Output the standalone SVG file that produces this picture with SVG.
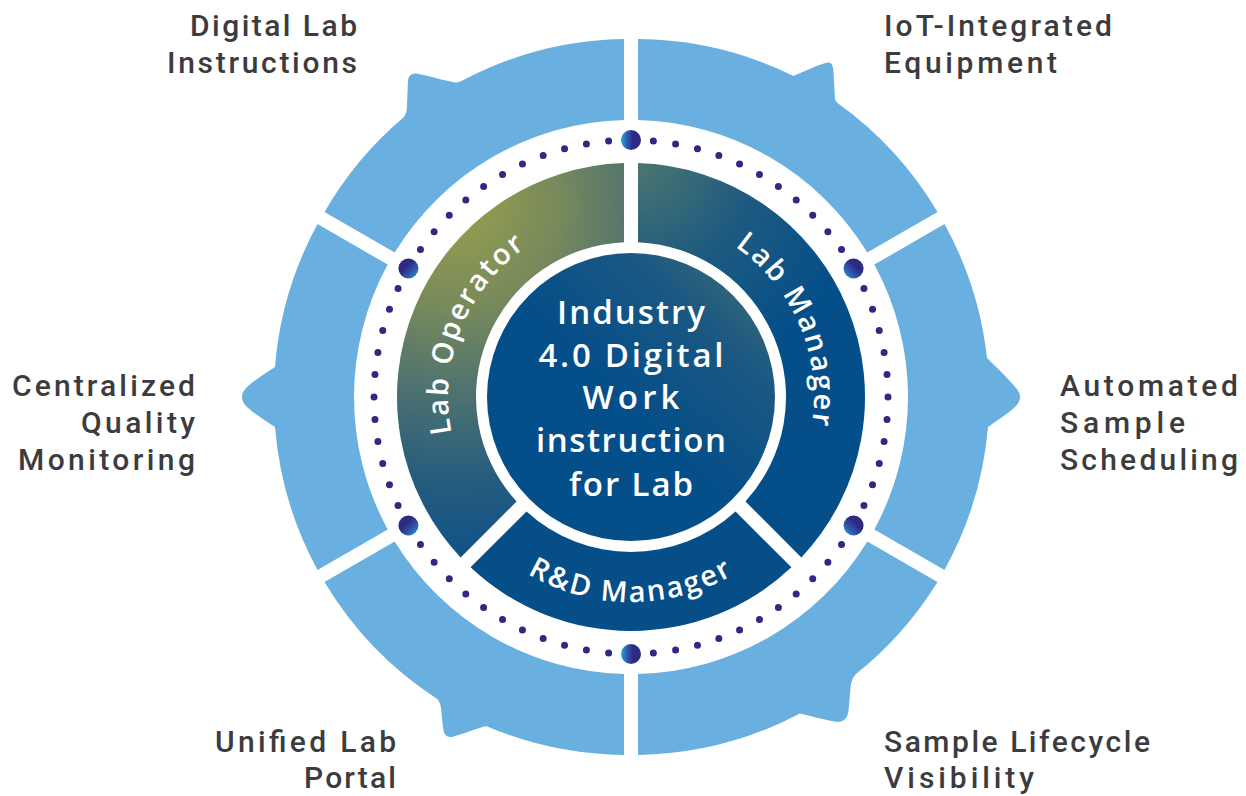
<svg xmlns="http://www.w3.org/2000/svg" width="1246" height="796" viewBox="0 0 1246 796">
<defs>
<style>
.seg{fill:#69AFE0}
.lbl{font-family:Roboto,"Liberation Sans",sans-serif;font-weight:500;font-size:30px;fill:#3C3C3E}
.end{text-anchor:end}
.inl{font-family:"Open Sans","Liberation Sans",sans-serif;font-weight:600;font-size:29px;fill:#FFFFFF;letter-spacing:2.2px}
.ctr{font-family:"Open Sans","Liberation Sans",sans-serif;font-weight:600;font-size:33px;fill:#FFFFFF;text-anchor:middle}
.big{stroke:none}
</style>
<radialGradient id="gOp" gradientUnits="userSpaceOnUse" cx="455" cy="205" r="340">
<stop offset="0" stop-color="#97A04C"/>
<stop offset="0.3" stop-color="#798A5B"/>
<stop offset="0.55" stop-color="#4D7270"/>
<stop offset="0.8" stop-color="#285D7D"/>
<stop offset="1" stop-color="#125386"/>
</radialGradient>
<radialGradient id="gMg" gradientUnits="userSpaceOnUse" cx="640" cy="160" r="230">
<stop offset="0" stop-color="#4C7670"/>
<stop offset="0.5" stop-color="#1D5A80"/>
<stop offset="1" stop-color="#044E89"/>
</radialGradient>
<linearGradient id="gCt" gradientUnits="userSpaceOnUse" x1="790" y1="245" x2="630" y2="410">
<stop offset="0" stop-color="#4E766E"/>
<stop offset="0.5" stop-color="#1B5882"/>
<stop offset="1" stop-color="#044E89"/>
</linearGradient>
<linearGradient id="dL" x1="0" y1="0.5" x2="1" y2="0.5">
<stop offset="0" stop-color="#20A9E1"/>
<stop offset="0.3" stop-color="#2F5CAF"/>
<stop offset="0.6" stop-color="#2E2A84"/>
</linearGradient>
<linearGradient id="dBL" x1="0" y1="1" x2="1" y2="0">
<stop offset="0" stop-color="#20A9E1"/>
<stop offset="0.3" stop-color="#2F5CAF"/>
<stop offset="0.6" stop-color="#2E2A84"/>
</linearGradient>
<linearGradient id="dBR" x1="1" y1="1" x2="0" y2="0">
<stop offset="0" stop-color="#20A9E1"/>
<stop offset="0.3" stop-color="#2F5CAF"/>
<stop offset="0.6" stop-color="#2E2A84"/>
</linearGradient>
<path id="pOp" d="M 472.52 488.5 A 183 183 0 0 1 580.56 221.09"/>
<path id="pMg" d="M 678.36 220.23 A 183 183 0 0 1 791.06 485.72"/>
<path id="pRD" d="M 469.46 523.21 A 205 205 0 0 0 792.54 523.21"/>
</defs>

<rect width="1246" height="796" fill="#FFFFFF"/>

<g id="seg-iot-integrated-equipment">
<path class="seg" d="M 638 39.07 A 358 358 0 0 1 793.5 76 C 805 71 820 64 828 62.5 C 832 62 833 66 833.5 72 L 835 99 Q 835.5 101.5 837.5 103 A 358 358 0 0 1 937.49 211.99 L 867.31 252.48 A 277 277 0 0 0 638 120.09 Z"/>
<text class="lbl" x="884" y="36" textLength="228" lengthAdjust="spacing">IoT-Integrated</text>
<text class="lbl" x="884" y="73" textLength="173" lengthAdjust="spacing">Equipment</text>
</g>

<g id="seg-automated-sample-scheduling">
<path class="seg" d="M 944.48 224.1 A 358 358 0 0 1 987 358 C 995 366 1008 378 1016 388 Q 1024 397 1016 406 C 1008 414 996 421 988 427 A 358 358 0 0 1 944.48 569.9 L 874.31 529.4 A 277 277 0 0 0 874.31 264.6 Z"/>
<text class="lbl" x="1060" y="396" textLength="178" lengthAdjust="spacing">Automated</text>
<text class="lbl" x="1060" y="433" textLength="125" lengthAdjust="spacing">Sample</text>
<text class="lbl" x="1060" y="470" textLength="178" lengthAdjust="spacing">Scheduling</text>
</g>

<g id="seg-sample-lifecycle-visibility">
<path class="seg" d="M 937.49 582.01 A 358 358 0 0 1 856 674 Q 851 679 850.5 688 L 848.5 711 Q 847 722 838 722 C 825 720 810 716 800 713.5 A 358 358 0 0 1 638 754.93 L 638 673.91 A 277 277 0 0 0 867.31 541.52 Z"/>
<text class="lbl" x="884" y="752" textLength="266" lengthAdjust="spacing">Sample Lifecycle</text>
<text class="lbl" x="884" y="788" textLength="150" lengthAdjust="spacing">Visibility</text>
</g>

<g id="seg-unified-lab-portal">
<path class="seg" d="M 624 754.93 A 358 358 0 0 1 486 726 C 475 729 460 735 452 737 Q 444 738 443 728 L 441 708 Q 440 701 436.5 698.5 A 358 358 0 0 1 324.51 582.01 L 394.69 541.52 A 277 277 0 0 0 624 673.91 Z"/>
<text class="lbl end" x="396" y="752" textLength="181" lengthAdjust="spacing">Unified Lab</text>
<text class="lbl end" x="396" y="788" textLength="92" lengthAdjust="spacing">Portal</text>
</g>

<g id="seg-centralized-quality-monitoring">
<path class="seg" d="M 317.52 569.9 A 358 358 0 0 1 275 427 C 266 421 253 413 246 406 Q 238 397 246 388 C 253 381 266 373 275 367 A 358 358 0 0 1 317.52 224.1 L 387.69 264.6 A 277 277 0 0 0 387.69 529.4 Z"/>
<text class="lbl end" x="195" y="396" textLength="183" lengthAdjust="spacing">Centralized</text>
<text class="lbl end" x="195" y="433" textLength="114" lengthAdjust="spacing">Quality</text>
<text class="lbl end" x="195" y="470" textLength="177" lengthAdjust="spacing">Monitoring</text>
</g>

<g id="seg-digital-lab-instructions">
<path class="seg" d="M 324.51 211.99 A 358 358 0 0 1 404 117 Q 407 113 407 105 L 408 80 Q 409 73 416 73.5 C 430 76 446 81 455 82.5 Q 458 82.5 461 81.3 A 358 358 0 0 1 624 39.07 L 624 120.09 A 277 277 0 0 0 394.69 252.48 Z"/>
<text class="lbl end" x="357" y="36" textLength="167" lengthAdjust="spacing">Digital Lab</text>
<text class="lbl end" x="357" y="73" textLength="190" lengthAdjust="spacing">Instructions</text>
</g>

<g id="connectors">
<circle cx="631" cy="397" r="257" fill="none" stroke="#2E2A84" stroke-width="7" stroke-linecap="round" pathLength="72" stroke-dasharray="0 1"/>
<circle class="big" cx="631" cy="140" r="10" fill="url(#dL)"/>
<circle class="big" cx="853.57" cy="268.5" r="10" fill="url(#dBL)"/>
<circle class="big" cx="853.57" cy="525.5" r="10" fill="url(#dBL)"/>
<circle class="big" cx="631" cy="654" r="10" fill="url(#dL)"/>
<circle class="big" cx="408.43" cy="525.5" r="10" fill="url(#dBR)"/>
<circle class="big" cx="408.43" cy="268.5" r="10" fill="url(#dBR)"/>
</g>

<g id="role-lab-operator">
<path d="M 624 163.1 A 234 234 0 0 0 460.63 557.41 L 516.54 501.52 A 155 155 0 0 1 624 242.16 Z" fill="url(#gOp)"/>
<text class="inl"><textPath href="#pOp" startOffset="50%" text-anchor="middle">Lab Operator</textPath></text>
</g>

<g id="role-lab-manager">
<path d="M 638 163.1 A 234 234 0 0 1 801.37 557.41 L 745.46 501.52 A 155 155 0 0 0 638 242.16 Z" fill="url(#gMg)"/>
<text class="inl"><textPath href="#pMg" startOffset="50%" text-anchor="middle">Lab Manager</textPath></text>
</g>

<g id="role-rd-manager">
<path d="M 470.59 567.37 A 234 234 0 0 0 791.41 567.37 L 735.52 511.46 A 155 155 0 0 1 526.48 511.46 Z" fill="#054E88"/>
<text class="inl"><textPath href="#pRD" startOffset="50%" text-anchor="middle">R&amp;D Manager</textPath></text>
</g>

<g id="center-industry-4-0">
<circle cx="631" cy="397" r="144" fill="url(#gCt)"/>
<text class="ctr" x="631" y="324" textLength="148" lengthAdjust="spacing">Industry</text>
<text class="ctr" x="631" y="367" textLength="185" lengthAdjust="spacing">4.0 Digital</text>
<text class="ctr" x="631" y="409" textLength="97" lengthAdjust="spacing">Work</text>
<text class="ctr" x="631" y="452" textLength="190" lengthAdjust="spacing">instruction</text>
<text class="ctr" x="631" y="496" textLength="124" lengthAdjust="spacing">for Lab</text>
</g>
</svg>
